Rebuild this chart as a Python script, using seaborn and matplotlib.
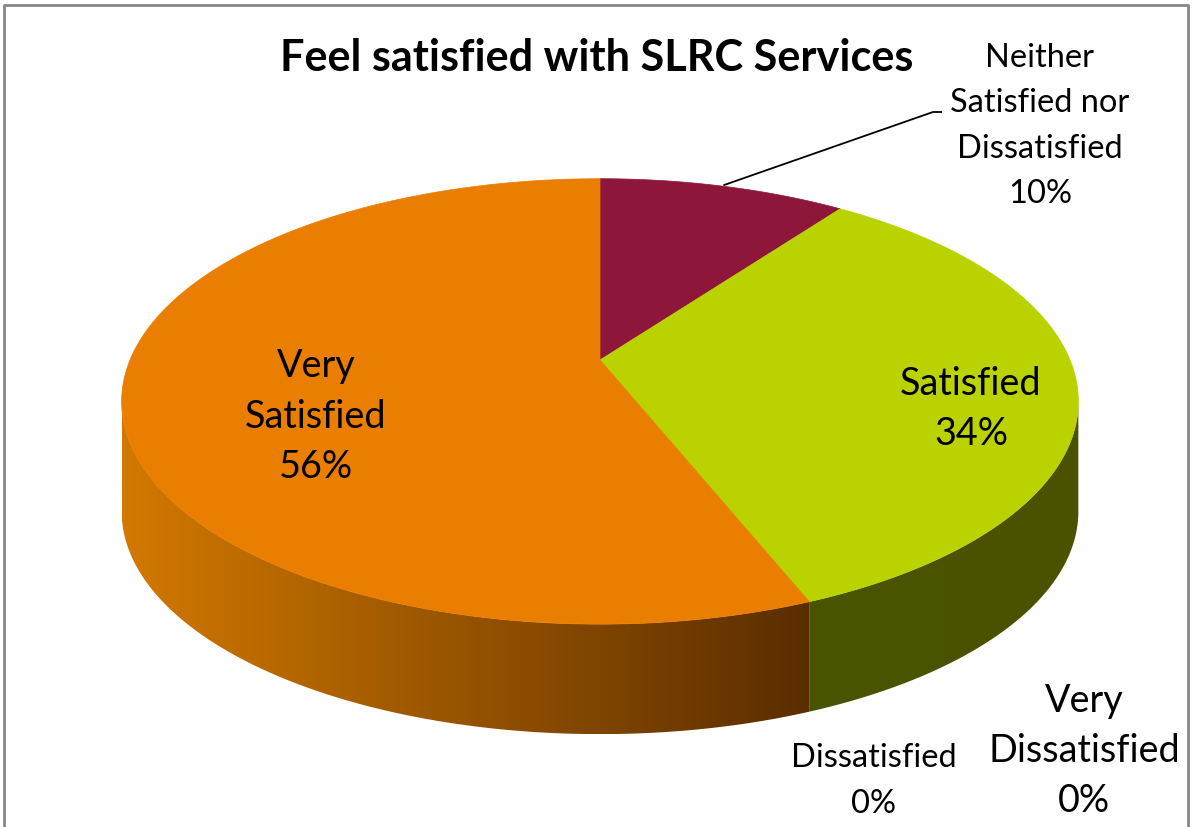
import numpy as np
import matplotlib
matplotlib.use("Agg")
import matplotlib.pyplot as plt
import seaborn as sns
from matplotlib.patches import Polygon, Rectangle
from matplotlib.colors import to_rgb

# ---------------- data ----------------
categories = ["Very Dissatisfied", "Dissatisfied",
              "Neither Satisfied nor Dissatisfied", "Satisfied", "Very Satisfied"]
values = [0, 0, 10, 34, 56]
label_lines = [["Very", "Dissatisfied"], ["Dissatisfied"],
               ["Neither", "Satisfied nor", "Dissatisfied"], ["Satisfied"],
               ["Very", "Satisfied"]]
title = "Feel satisfied with SLRC Services"

# ---------------- style ----------------
top_colors = {"Very Dissatisfied": "#3B6AA8", "Dissatisfied": "#A23B3B",
              "Neither Satisfied nor Dissatisfied": "#8F163B",
              "Satisfied": "#B9D200", "Very Satisfied": "#E97E00"}
side_colors = {"Very Dissatisfied": ("#2A4B78", "#2A4B78"),
               "Dissatisfied": ("#702828", "#702828"),
               "Neither Satisfied nor Dissatisfied": ("#5E0E27", "#5E0E27"),
               "Satisfied": ("#4B5400", "#4A5200"),
               "Very Satisfied": ("#D27900", "#5A2D00")}
# label layout: centre x, first baseline, line step, size class
label_layout = {"Very Dissatisfied": (1084, 712, 50, "A"),
                "Dissatisfied": (874, 767, 46, "B"),
                "Neither Satisfied nor Dissatisfied": (1040, 67, 45.3, "B"),
                "Satisfied": (971, 395, 50, "A"),
                "Very Satisfied": (316, 377, 50.5, "A")}

W, H = 1193, 827
CX, CY, A, B, K = 600, 360, 470, 215, 0.186   # projection of the pie disc
DEPTH = 110                                   # thickness of the 3D pie

sns.set_theme(style="white")
FONT = ["Lato", "DejaVu Sans"]
plt.rcParams["font.family"] = FONT

fig = plt.figure(figsize=(W / 100, H / 100), dpi=100)
ax = fig.add_axes([0, 0, 1, 1])
ax.set_xlim(0, W)
ax.set_ylim(H, 0)
ax.axis("off")
renderer = fig.canvas.get_renderer()


def proj(theta_deg):
    t = np.radians(theta_deg)
    u, v = np.sin(t), np.cos(t)
    d = 1 + K * v
    return CX + A * u / d, CY - B * v / d


# angles clockwise from 12 o'clock
total = float(sum(values))
ends = np.cumsum(values) / total * 360.0
starts = ends - np.array(values) / total * 360.0
theta_r = np.degrees(np.arccos(-K))
theta_l = 360.0 - theta_r

# ---- side walls ----
for cat, a0, a1 in zip(categories, starts, ends):
    s0, s1 = max(a0, theta_r), min(a1, theta_l)
    if s1 <= s0:
        continue
    th = np.linspace(s0, s1, 200)
    xs, ys = proj(th)
    px = np.concatenate([xs, xs[::-1]])
    py = np.concatenate([ys, ys[::-1] + DEPTH])
    poly = Polygon(np.column_stack([px, py]), closed=True, facecolor="none",
                   edgecolor="none")
    ax.add_patch(poly)
    c0, c1 = (np.array(to_rgb(c)) for c in side_colors[cat])
    x0, x1 = px.min(), px.max()
    f = np.linspace(0, 1, 256)[:, None]
    grad = (c0[None, :] * (1 - f) + c1[None, :] * f)[None, :, :]
    im = ax.imshow(grad, extent=(x0, x1, py.max(), py.min()), aspect="auto",
                   interpolation="bilinear", zorder=1)
    im.set_clip_path(poly)

# ---- top faces ----
for cat, a0, a1 in zip(categories, starts, ends):
    if a1 - a0 <= 0:
        continue
    th = np.linspace(a0, a1, 300)
    xs, ys = proj(th)
    px = np.concatenate([[CX], xs])
    py = np.concatenate([[CY], ys])
    ax.add_patch(Polygon(np.column_stack([px, py]), closed=True,
                         facecolor=top_colors[cat], edgecolor=top_colors[cat],
                         linewidth=0.5, zorder=2))

ax.set_xlim(0, W)
ax.set_ylim(H, 0)


# ---- font sizing ----
def text_width(s, size, weight="normal"):
    t = ax.text(0, 0, s, fontsize=size, fontweight=weight, family=FONT)
    w = t.get_window_extent(renderer).width
    t.remove()
    return w


size_A = 20 * 142 / text_width("Satisfied", 20)
size_B = 20 * 166 / text_width("Dissatisfied", 20)
size_T = 20 * 635 / text_width(title, 20, "bold")
sizes = {"A": size_A, "B": size_B}

# ---- title ----
ax.text(597, 71, title, fontsize=size_T, fontweight="bold", ha="center",
        va="baseline", color="black", family=FONT, zorder=5)

# ---- data labels ----
for cat, val, lines in zip(categories, values, label_lines):
    x, y0, step, cls = label_layout[cat]
    all_lines = lines + [f"{val / total * 100:.0f}%"]
    for i, line in enumerate(all_lines):
        ax.text(x, y0 + i * step, line, fontsize=sizes[cls], ha="center",
                va="baseline", color="black", family=FONT, zorder=5)

# ---- leader line for the small slice ----
i_n = categories.index("Neither Satisfied nor Dissatisfied")
mx, my = proj((starts[i_n] + ends[i_n]) / 2)
ax.plot([mx, 933, 942], [my - 1, 112, 112], color="black", lw=1.3,
        solid_capstyle="butt", zorder=4)

# ---- chart frame ----
ax.plot([4, 4, 1188, 1188], [H + 5, 5, 5, H + 5], color="#868686", lw=2,
        zorder=6, clip_on=False)

fig.savefig("out.png", dpi=100)
